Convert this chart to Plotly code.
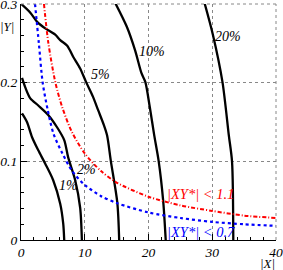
import plotly.graph_objects as go

# Contour curves (|X|, |Y|)
c1_x = [0.16, 0.94, 1.72, 2.71, 3.80, 5.05, 6.15, 6.62, 6.78]
c1_y = [0.161, 0.150, 0.131, 0.114, 0.097, 0.076, 0.046, 0.021, 0.0]

c2_x = [0.16, 0.67, 1.46, 2.71, 4.27, 5.68, 6.78, 7.40, 8.50, 9.28, 9.55]
c2_y = [0.206, 0.194, 0.180, 0.171, 0.159, 0.143, 0.127, 0.105, 0.076, 0.041, 0.0]

c5_x = [0.05, 1.46, 2.57, 3.80, 5.37, 6.15, 7.25, 8.18, 9.28, 10.2, 11.3, 12.1, 13.0, 13.5, 14.1, 15.1, 15.4]
c5_y = [0.300, 0.289, 0.277, 0.269, 0.261, 0.254, 0.247, 0.233, 0.218, 0.201, 0.182, 0.165, 0.146, 0.133, 0.100, 0.048, 0.0]

c10_x = [14.8, 16.6, 17.9, 18.9, 19.5, 20.2, 20.9, 21.6, 22.3, 22.7]
c10_y = [0.301, 0.271, 0.241, 0.212, 0.201, 0.169, 0.133, 0.100, 0.050, 0.0]

c20_x = [28.8, 30.1, 31.6, 32.6, 33.1, 33.3]
c20_y = [0.301, 0.261, 0.201, 0.133, 0.100, 0.0]

blue_x = [2.2, 2.8, 3.4, 4.2, 5.1, 6.5, 8.0, 10.0, 12.5, 15.0, 20.0, 25.0, 30.0, 35.0, 40.0]
blue_y = [0.300, 0.250, 0.200, 0.165, 0.135, 0.110, 0.088, 0.070, 0.056, 0.047, 0.035, 0.028, 0.023, 0.020, 0.018]

red_x = [3.6, 4.3, 5.4, 6.5, 8.0, 10.0, 12.5, 15.0, 20.0, 25.0, 30.0, 35.0, 40.0]
red_y = [0.300, 0.250, 0.200, 0.168, 0.137, 0.110, 0.088, 0.073, 0.055, 0.044, 0.037, 0.031, 0.028]

x_ticks = [0, 10, 20, 30, 40]
x_tick_text = ["0", "10", "20", "30", "40"]
y_ticks = [0, 0.1, 0.2, 0.3]
y_tick_text = ["0", "0.1", "0.2", "0.3"]

labels = [
    ("1%", 7.4, 0.069),
    ("2%", 10.2, 0.089),
    ("5%", 12.4, 0.211),
    ("10%", 20.5, 0.240),
    ("20%", 32.4, 0.259),
]

FONT = "Liberation Serif"

fig = go.Figure()
for xs, ys in [(c1_x, c1_y), (c2_x, c2_y), (c5_x, c5_y), (c10_x, c10_y), (c20_x, c20_y)]:
    fig.add_trace(go.Scatter(x=xs, y=ys, mode="lines", line=dict(color="black", width=2.3, shape="spline", smoothing=0.8),
                             showlegend=False, hoverinfo="skip"))
fig.add_trace(go.Scatter(x=blue_x, y=blue_y, mode="lines",
                         line=dict(color="#0000ff", width=2.2, dash="dot", shape="spline", smoothing=0.8),
                         showlegend=False, hoverinfo="skip"))
fig.add_trace(go.Scatter(x=red_x, y=red_y, mode="lines",
                         line=dict(color="#ff0000", width=2, dash="4px,2px,1px,2px", shape="spline", smoothing=0.8),
                         showlegend=False, hoverinfo="skip"))

for t, x, y in labels:
    fig.add_annotation(x=x, y=y, text=t, showarrow=False, xref="x", yref="y",
                       font=dict(family=FONT, size=14, color="black", style="italic"))

fig.add_annotation(x=22.6, y=0.059, text="|XY*| < 1.1", showarrow=False, xanchor="left",
                   font=dict(family=FONT, size=14.5, color="#ff0000", style="italic"))
fig.add_annotation(x=22.6, y=0.0096, text="|XY*| < 0.7", showarrow=False, xanchor="left",
                   font=dict(family=FONT, size=14.5, color="#0000ff", style="italic"))
fig.add_annotation(x=-0.055, y=0.903, xref="paper", yref="paper", text="|Y|", showarrow=False,
                   xanchor="center", yanchor="middle",
                   font=dict(family=FONT, size=13, color="black", style="italic"))
fig.add_annotation(x=0.965, y=-0.1, xref="paper", yref="paper", text="|X|", showarrow=False,
                   xanchor="center", yanchor="middle",
                   font=dict(family=FONT, size=13, color="black", style="italic"))

# dotted frame on top and right
fig.add_shape(type="line", xref="paper", yref="paper", x0=0, x1=1, y0=1, y1=1,
              line=dict(color="#888888", width=1, dash="dot"))
fig.add_shape(type="line", xref="paper", yref="paper", x0=1, x1=1, y0=0, y1=1,
              line=dict(color="#888888", width=1, dash="dot"))

fig.update_xaxes(range=[0, 40], tickvals=x_ticks, ticktext=x_tick_text, automargin=False,
                 ticklabeloverflow="allow",
                 showgrid=True, gridcolor="#888888", griddash="dot", gridwidth=1,
                 zeroline=False, showline=True, linecolor="black", linewidth=1.2,
                 ticks="inside", ticklen=6, tickcolor="black",
                 minor=dict(ticks="inside", dtick=2, ticklen=3, tickcolor="black", showgrid=False),
                 tickfont=dict(family=FONT, size=13.5, color="black", style="italic"))
fig.update_yaxes(range=[0, 0.3], tickvals=y_ticks, ticktext=y_tick_text, automargin=False,
                 ticklabeloverflow="allow",
                 showgrid=True, gridcolor="#888888", griddash="dot", gridwidth=1,
                 zeroline=False, showline=True, linecolor="black", linewidth=1.2,
                 ticks="inside", ticklen=6, tickcolor="black",
                 minor=dict(ticks="inside", dtick=0.02, ticklen=3, tickcolor="black", showgrid=False),
                 tickfont=dict(family=FONT, size=13.5, color="black", style="italic"))

fig.update_layout(width=283, height=270, margin=dict(l=21, r=7, t=4, b=30),
                  plot_bgcolor="white", paper_bgcolor="white")
fig.write_html("out.html", config={"displayModeBar": False},
               post_script="document.body.style.margin='0';document.body.style.overflow='hidden';")
